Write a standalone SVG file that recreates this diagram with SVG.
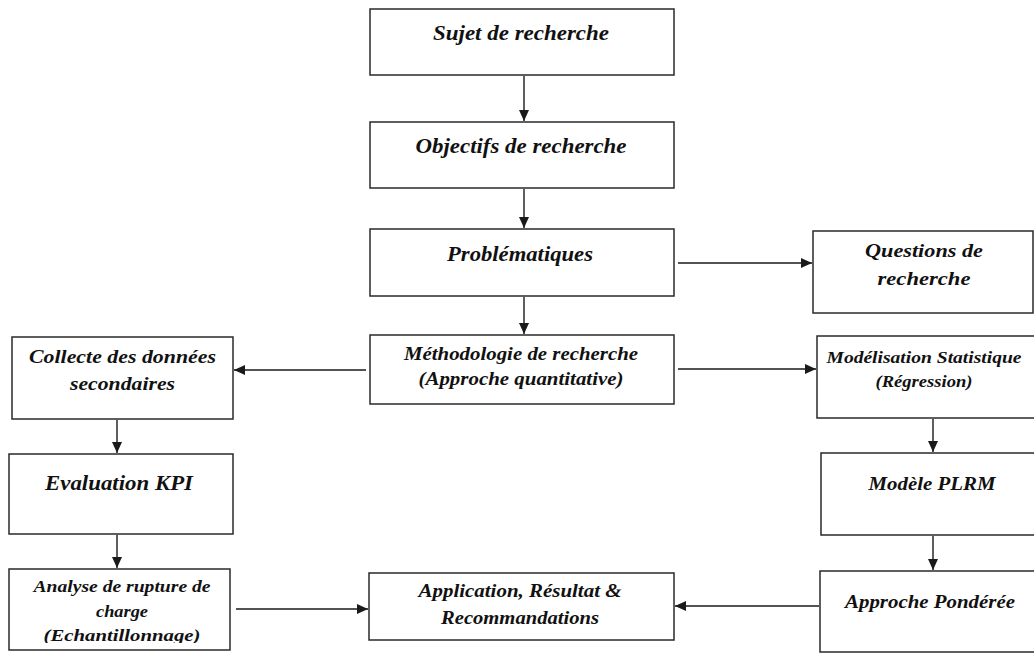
<svg xmlns="http://www.w3.org/2000/svg" width="1034" height="653" viewBox="0 0 1034 653">
  <style>
    .box { fill: #ffffff; stroke: #2a2a2a; stroke-width: 1.5; }
    .lbl { font-family: 'Liberation Serif', 'DejaVu Serif', serif; font-style: italic; font-weight: 700; fill: #111111; text-anchor: middle; }
    .edge { fill: none; stroke: #1a1a1a; stroke-width: 1.4; marker-end: url(#head); }
  </style>
  <defs>
    <marker id="head" markerUnits="userSpaceOnUse" markerWidth="11" markerHeight="10" refX="11" refY="5" orient="auto">
      <path d="M0,0 L11,5 L0,10 Z" fill="#1a1a1a"/>
    </marker>
    <clipPath id="clipAnalyse">
      <rect x="9" y="569" width="221" height="74"/>
    </clipPath>
  </defs>

  <rect width="1034" height="653" fill="#ffffff"/>

  <!-- connectors -->
  <g id="connectors">
    <line class="edge" x1="524" y1="76" x2="524" y2="121"/>
    <line class="edge" x1="524" y1="189" x2="524" y2="228"/>
    <line class="edge" x1="524" y1="297" x2="524" y2="334"/>
    <line class="edge" x1="678" y1="263" x2="812" y2="263"/>
    <line class="edge" x1="366" y1="370" x2="234" y2="370"/>
    <line class="edge" x1="678" y1="369" x2="816" y2="369"/>
    <line class="edge" x1="117" y1="420" x2="117" y2="453"/>
    <line class="edge" x1="117" y1="535" x2="117" y2="568"/>
    <line class="edge" x1="933" y1="419" x2="933" y2="452"/>
    <line class="edge" x1="933" y1="536" x2="933" y2="570"/>
    <line class="edge" x1="236" y1="609" x2="368" y2="609"/>
    <line class="edge" x1="819" y1="606" x2="675" y2="606"/>
  </g>

  <!-- text is slightly widened with textLength to keep the wide set of the labels -->
  <g id="sujet">
    <rect class="box" x="370" y="9" width="304" height="66"/>
    <text class="lbl" x="521" y="40" font-size="20" textLength="176" lengthAdjust="spacingAndGlyphs">Sujet de recherche</text>
  </g>

  <g id="objectifs">
    <rect class="box" x="370" y="122" width="304" height="66"/>
    <text class="lbl" x="521" y="153" font-size="20" textLength="211" lengthAdjust="spacingAndGlyphs">Objectifs de recherche</text>
  </g>

  <g id="problematiques">
    <rect class="box" x="370" y="229" width="304" height="67"/>
    <text class="lbl" x="520" y="261" font-size="20" textLength="146" lengthAdjust="spacingAndGlyphs">Problématiques</text>
  </g>

  <g id="questions">
    <rect class="box" x="813" y="231" width="220" height="82"/>
    <text class="lbl" x="924" y="257" font-size="19.5" textLength="118" lengthAdjust="spacingAndGlyphs">Questions de</text>
    <text class="lbl" x="924" y="285" font-size="19.5" textLength="93" lengthAdjust="spacingAndGlyphs">recherche</text>
  </g>

  <g id="methodologie">
    <rect class="box" x="370" y="335" width="304" height="69"/>
    <text class="lbl" x="521" y="360" font-size="18" textLength="234" lengthAdjust="spacingAndGlyphs">Méthodologie de recherche</text>
    <text class="lbl" x="521" y="385" font-size="18" textLength="205" lengthAdjust="spacingAndGlyphs">(Approche quantitative)</text>
  </g>

  <g id="collecte">
    <rect class="box" x="12" y="337" width="221" height="82"/>
    <text class="lbl" x="122.5" y="363" font-size="19" textLength="187" lengthAdjust="spacingAndGlyphs">Collecte des données</text>
    <text class="lbl" x="122.5" y="390" font-size="19" textLength="105" lengthAdjust="spacingAndGlyphs">secondaires</text>
  </g>

  <g id="modelisation">
    <rect class="box" x="817" y="336" width="230" height="82"/>
    <text class="lbl" x="924" y="363" font-size="17" textLength="195" lengthAdjust="spacingAndGlyphs">Modélisation Statistique</text>
    <text class="lbl" x="924" y="387" font-size="17" textLength="97" lengthAdjust="spacingAndGlyphs">(Régression)</text>
  </g>

  <g id="evaluation">
    <rect class="box" x="9" y="454" width="224" height="80"/>
    <text class="lbl" x="119" y="490" font-size="20" textLength="148" lengthAdjust="spacingAndGlyphs">Evaluation KPI</text>
  </g>

  <g id="plrm">
    <rect class="box" x="821" y="453" width="226" height="82"/>
    <text class="lbl" x="932" y="490" font-size="18" textLength="127" lengthAdjust="spacingAndGlyphs">Modèle PLRM</text>
  </g>

  <g id="analyse">
    <rect class="box" x="9" y="569" width="221" height="81"/>
    <g clip-path="url(#clipAnalyse)">
      <text class="lbl" x="122" y="592" font-size="17" textLength="177" lengthAdjust="spacingAndGlyphs">Analyse de rupture de</text>
      <text class="lbl" x="122" y="617" font-size="17" textLength="52" lengthAdjust="spacingAndGlyphs">charge</text>
      <text class="lbl" x="122" y="641" font-size="17" textLength="157" lengthAdjust="spacingAndGlyphs">(Echantillonnage)</text>
    </g>
  </g>

  <g id="application">
    <rect class="box" x="369" y="573" width="305" height="67"/>
    <text class="lbl" x="520" y="597" font-size="18" textLength="203" lengthAdjust="spacingAndGlyphs">Application, Résultat &amp;</text>
    <text class="lbl" x="520" y="624" font-size="18" textLength="158" lengthAdjust="spacingAndGlyphs">Recommandations</text>
  </g>

  <g id="ponderee">
    <rect class="box" x="820" y="571" width="230" height="81"/>
    <text class="lbl" x="930" y="608" font-size="18.5" textLength="170" lengthAdjust="spacingAndGlyphs">Approche Pondérée</text>
  </g>
</svg>
